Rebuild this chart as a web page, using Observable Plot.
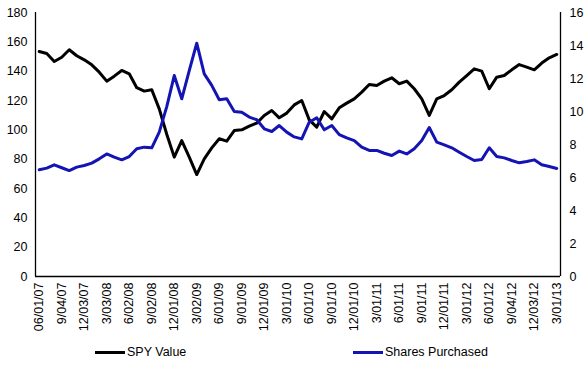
<!DOCTYPE html>
<html>
<head>
<meta charset="utf-8">
<script src="https://cdn.jsdelivr.net/npm/d3@7"></script>
<script src="https://cdn.jsdelivr.net/npm/@observablehq/plot@0.6"></script>
<style>
  body { margin: 0; background: #fff; font-family: "Liberation Sans", Arial, sans-serif; }
  #wrap { position: relative; width: 586px; height: 365px; }
  #legend { position: absolute; left: 0; top: 344px; width: 586px; height: 16px; font-size: 12.5px; color: #000; }
  .item { position: absolute; top: 0; display: flex; align-items: center; height: 16px; }
  .swatch { display: inline-block; width: 30px; height: 3px; margin-right: 2px; }
</style>
</head>
<body>
<div id="wrap">
  <div id="chart"></div>
  <div id="legend">
    <div class="item" style="left:95px"><span class="swatch" style="background:#000"></span>SPY Value</div>
    <div class="item" style="left:353px"><span class="swatch" style="background:#1414b4"></span>Shares Purchased</div>
  </div>
</div>
<script>
const tickLabels = ["06/01/07","9/04/07","12/03/07","3/03/08","6/02/08","9/02/08","12/01/08","3/02/09",
  "6/01/09","9/01/09","12/01/09","3/01/10","6/01/10","9/01/10","12/01/10","3/01/11","6/01/11","9/01/11",
  "12/01/11","3/01/12","6/01/12","9/04/12","12/03/12","3/01/13"];

const spyValue = [153.4,152,146.6,149.5,154.6,150.5,147.7,144.3,139.3,133.2,136.6,140.5,138.2,128.7,126.4,127.3,
  114.3,97,81.4,92.7,81.4,69.5,80.2,87.7,93.9,92.3,99.5,100,102.5,104.6,109.8,113.2,108.2,111.4,117,120,
  106.8,101.8,112.5,107.5,115,118.2,121.1,125.7,130.9,130.2,133.2,135.5,131.4,133.2,128,121.1,109.8,121.1,
  123.4,127.3,132.5,137,141.6,140,128,135.9,137,140.9,144.5,142.7,140.9,145.5,149.1,151.4];

const sharesPurchased = [6.47,6.57,6.77,6.59,6.42,6.63,6.73,6.87,7.13,7.43,7.23,7.07,7.27,7.74,7.84,7.8,
  8.75,10.3,12.18,10.77,12.48,14.14,12.28,11.58,10.71,10.77,10.0,9.96,9.66,9.5,8.95,8.79,9.15,8.75,8.46,8.34,
  9.35,9.62,8.89,9.15,8.6,8.4,8.24,7.84,7.64,7.64,7.47,7.33,7.6,7.43,7.74,8.24,9.03,8.14,7.98,7.8,7.53,7.27,
  7.03,7.09,7.8,7.27,7.19,7.03,6.89,6.97,7.07,6.77,6.67,6.55];

const leftTicks = [0,20,40,60,80,100,120,140,160,180];
const rightTicks = [0,2,4,6,8,10,12,14,16];
const leftMax = 180, rightMax = 16;
const k = leftMax / rightMax;

const n = spyValue.length;
const spyData = spyValue.map((v, i) => ({i, v}));
const shareData = sharesPurchased.map((v, i) => ({i, v: v * k}));
const xTicks = tickLabels.map((_, j) => j * 3);
const xDomain = [-0.5, n - 0.5];

const chart = Plot.plot({
  width: 586,
  height: 340,
  marginTop: 12,
  marginLeft: 35,
  marginRight: 26,
  marginBottom: 64,
  style: { fontFamily: "Liberation Sans, Arial, sans-serif", fontSize: "12px", color: "#000", background: "#fff", overflow: "visible" },
  x: { domain: xDomain },
  y: { domain: [0, leftMax] },
  marks: [
    Plot.axisY(leftTicks, { anchor: "left", tickSize: 0, tickPadding: 8, label: null, fontSize: 12.5 }),
    Plot.axisY(rightTicks.map(v => v * k), { anchor: "right", tickSize: 0, tickPadding: 9, label: null,
      tickFormat: d => String(Math.round(d / k)), fontSize: 12.5 }),
    Plot.axisX(xTicks, { anchor: "bottom", tickSize: 0, tickPadding: 6, tickRotate: -90, label: null,
      tickFormat: d => tickLabels[d / 3], fontSize: 12.5 }),
    Plot.ruleX(xDomain, { stroke: "#000", strokeWidth: 1.3 }),
    Plot.ruleY([0], { stroke: "#000", strokeWidth: 1.3 }),
    Plot.line(spyData, { x: "i", y: "v", stroke: "#000", strokeWidth: 3, strokeLinejoin: "round" }),
    Plot.line(shareData, { x: "i", y: "v", stroke: "#1414b4", strokeWidth: 3, strokeLinejoin: "round" })
  ]
});
document.getElementById("chart").appendChild(chart);
</script>
</body>
</html>
